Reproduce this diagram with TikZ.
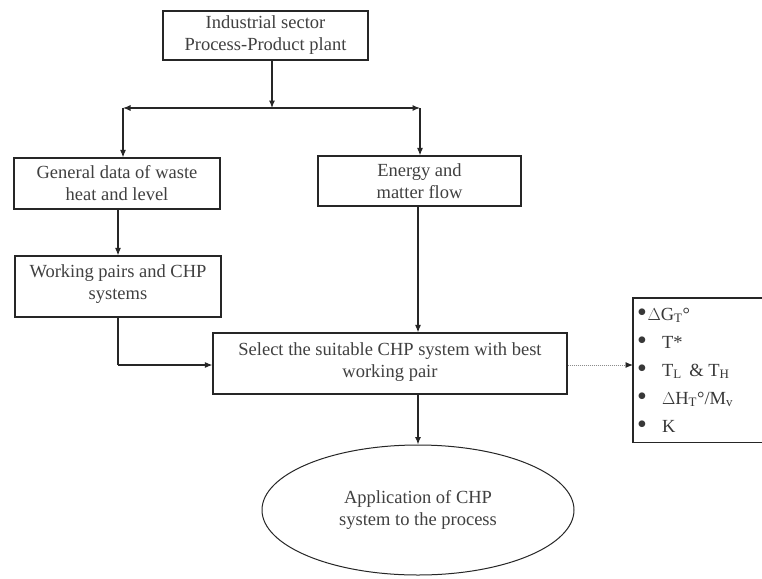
\documentclass[tikz,border=0pt]{standalone}
\usepackage{fontspec}
\setmainfont{Liberation Serif}
\usetikzlibrary{arrows.meta,shapes.geometric}
\tikzset{
  box/.style={draw=black!85, line width=1.2pt, align=center, inner sep=0pt,
    text=black!75, font=\fontsize{18.5}{22}\selectfont},
  oval/.style={box, ellipse, line width=1pt},
  flow/.style={line width=1.1pt, draw=black!85, -{Latex[length=7.5pt,width=6pt]}},
  plain/.style={line width=1.1pt, draw=black!85},
  hint/.style={line width=0.9pt, draw=black!45, dash pattern=on 1pt off 1pt,
    -{Latex[length=7.5pt,width=6pt,color=black!85,fill=black!85]}},
  listtext/.style={inner sep=0pt, text=black!78, font=\fontsize{18.5}{28}\selectfont}
}
% a larger list bullet
\newcommand\critdot{{\fontsize{28}{28}\selectfont\raisebox{-1.5pt}{\textbullet}}}
\begin{document}
\begin{tikzpicture}[x=1pt,y=-1pt]
\useasboundingbox (0,0) rectangle (762,578);
\fill[white] (0,0) rectangle (762,578);

% boxes of the flow chart
\node[box, minimum width=205pt, minimum height=49pt] (plant) at (265.5,35.5)
  {Industrial sector\\Process-Product plant};
\node[box, minimum width=206pt, minimum height=51pt] (waste) at (117,183.5)
  {General data of waste\\heat and level};
\node[box, minimum width=203pt, minimum height=50pt] (energy) at (419.5,181)
  {Energy and\\matter flow};
\node[box, minimum width=206pt, minimum height=61pt] (pairs) at (118,286.5)
  {Working pairs and CHP\\systems\\[-14pt]};
\node[box, minimum width=354pt, minimum height=61pt] (select) at (390,363.5)
  {Select the suitable CHP system with best\\working pair\\[-15pt]};
\node[oval, minimum width=312pt, minimum height=130pt] (apply) at (418,510)
  {Application of CHP\\system to the process};

% list of selection criteria, box open at the right border
\node[inner sep=0pt, minimum width=129pt, minimum height=144pt, anchor=north west]
  (crit) at (633,298) {};
\draw[plain, line width=1.2pt]
  (crit.north east) -- (crit.north west) -- (crit.south west) -- (crit.south east);
\node[listtext, anchor=base west] (critlist) at (637,320) {%
  \begin{tabular}[t]{@{}l@{}}
  \critdot\kern0.5pt$\Delta$G\textsubscript{T}°\\
  \critdot\kern15pt T*\\
  \critdot\kern15pt T\textsubscript{L} \,\& T\textsubscript{H}\\
  \critdot\kern15pt $\Delta$H\textsubscript{T}°/M\textsubscript{v}\\
  \critdot\kern15pt K
  \end{tabular}};

% splitting of the plant data into two branches
\coordinate (jT) at (272,108);
\coordinate (jL) at (123,108);
\coordinate (jR) at (420,108);
\coordinate (jB) at (118,365);

\draw[flow] (plant.south -| jT) -- (jT);
\draw[flow] (jT) -- (jL);
\draw[flow] (jT) -- (jR);
\draw[flow] (jL) -- (jL |- waste.north);
\draw[flow] (jR) -- (jR |- energy.north);

\draw[flow] (waste.south -| pairs.south) -- (pairs.north);
\draw[plain] (pairs.south) -- (jB);
\draw[flow] (jB) -- (jB -| select.west);
\draw[flow] (energy.south -| apply.north) -- (apply.north |- select.north);
\draw[flow] (select.south -| apply.north) -- (apply.north);
\draw[hint] (select.east |- jB) -- (crit.west |- jB);
\end{tikzpicture}
\end{document}
